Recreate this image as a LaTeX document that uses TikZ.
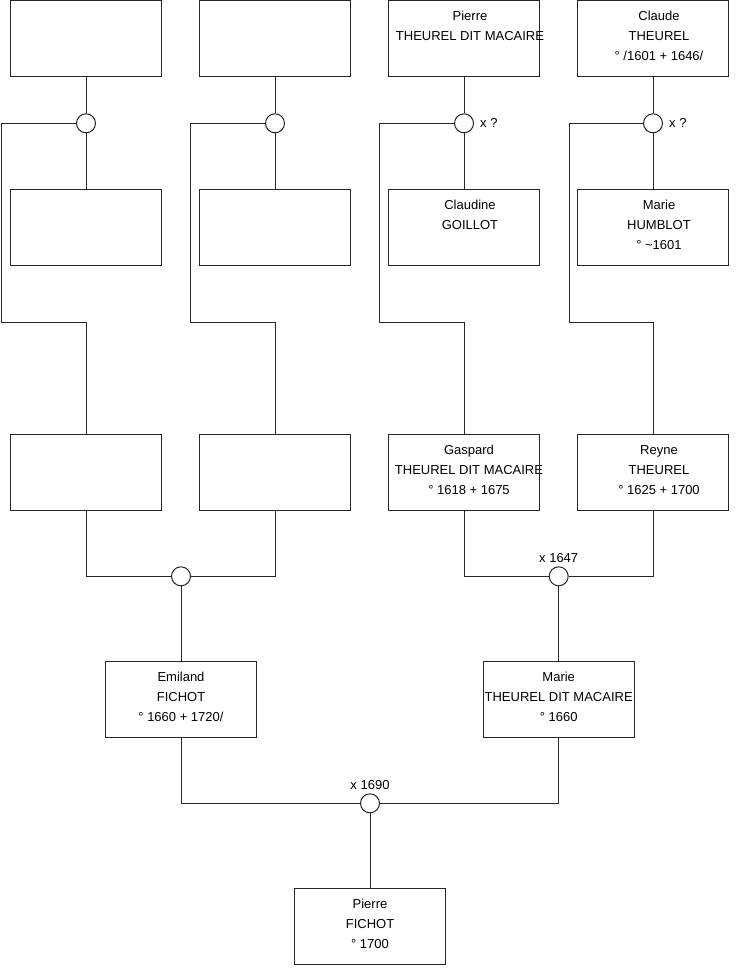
\documentclass[tikz,border=0pt]{standalone}
\usepackage{fontspec}
\setmainfont{Liberation Sans}
\usetikzlibrary{positioning}
\definecolor{linedraw}{HTML}{262626}

\begin{document}
\begin{tikzpicture}[
    x=1pt, y=-1pt,
    font=\fontsize{13}{20}\selectfont,
    box/.style={rectangle, draw=linedraw, fill=white, line width=1pt,
                minimum width=151pt, minimum height=76pt, inner sep=0pt},
    who/.style={anchor=north, align=center, inner sep=0pt, yshift=-11pt},
    wed/.style={circle, draw=linedraw, fill=white, line width=1pt,
                minimum size=19pt, inner sep=0pt},
    link/.style={draw=linedraw, line width=1pt},
    tag/.style={inner sep=0pt},
]
\useasboundingbox (0,0) rectangle (740,975);

% ---------------- Great-grandparents ----------------
\node[box] (f1) at (86,38.5) {};
\node[box] (f2) at (275,38.5) {};
\node[box, label={[who, xshift=6pt]north:Pierre\\THEUREL DIT MACAIRE}] (f3) at (464,38.5) {};
\node[box, label={[who, xshift=6pt]north:Claude\\THEUREL\\° /1601 + 1646/}] (f4) at (653,38.5) {};

\foreach \i/\x in {1/86, 2/275, 3/464, 4/653}
  \node[wed] (u\i) at (\x,123.3) {};

\node[tag, right=6pt of u3] (q3) {x ?};
\node[tag, right=6pt of u4] (q4) {x ?};

\node[box] (s1) at (86,227.3) {};
\node[box] (s2) at (275,227.3) {};
\node[box, label={[who, xshift=6pt]north:Claudine\\GOILLOT}] (s3) at (464,227.3) {};
\node[box, label={[who, xshift=6pt]north:Marie\\HUMBLOT\\° \textasciitilde1601}] (s4) at (653,227.3) {};

% ---------------- Grandparents ----------------
\node[box] (g1) at (86,472.7) {};
\node[box] (g2) at (275,472.7) {};
\node[box, label={[who, xshift=5pt]north:Gaspard\\THEUREL DIT MACAIRE\\° 1618 + 1675}] (g3) at (464,472.7) {};
\node[box, label={[who, xshift=6pt]north:Reyne\\THEUREL\\° 1625 + 1700}] (g4) at (653,472.7) {};

\node[wed] (u5) at (181,576.3) {};
\node[wed] (u6) at (558.7,576.3) {};
\node[tag, above=3.5pt of u6] (d6) {x 1647};

% ---------------- Parents and child ----------------
\node[box, label={[who]north:Emiland\\FICHOT\\° 1660 + 1720/}] (emiland) at (181,699.5) {};
\node[box, label={[who]north:Marie\\THEUREL DIT MACAIRE\\° 1660}] (marie) at (558.7,699.5) {};

\node[wed] (u7) at (370,803.3) {};
\node[tag, above=3.5pt of u7] (d7) {x 1690};

\node[box, label={[who]north:Pierre\\FICHOT\\° 1700}] (pierre) at (370,926) {};

% ---------------- Connectors ----------------
\foreach \i in {1,...,4}
  \draw[link] (f\i) -- (u\i) -- (s\i);

\foreach \i/\x in {1/1.7, 2/190.3, 3/379.3, 4/569} {
  \coordinate (r\i) at (\x,322);
  \draw[link] (u\i.west) -| (r\i) -| (g\i.north);
}

\draw[link] (g1.south) |- (u5.west);
\draw[link] (g2.south) |- (u5.east);
\draw[link] (g3.south) |- (u6.west);
\draw[link] (g4.south) |- (u6.east);
\draw[link] (emiland.south) |- (u7.west);
\draw[link] (marie.south) |- (u7.east);

\foreach \a/\b in {u5/emiland, u6/marie, u7/pierre}
  \draw[link] (\a) -- (\b);

\end{tikzpicture}
\end{document}
